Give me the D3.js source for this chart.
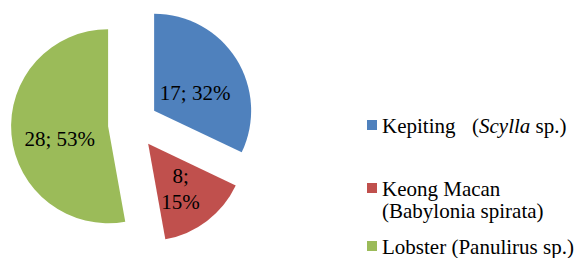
<!DOCTYPE html>
<html>
<head>
<meta charset="utf-8">
<script src="https://cdn.jsdelivr.net/npm/d3@7"></script>
<style>
  body { margin: 0; background: #fff; }
</style>
</head>
<body>
<script>
const categories = ["Kepiting", "Keong Macan", "Lobster"];
const values = [17, 8, 28];
const colors = ["#4f81bd", "#c0504d", "#9bbb59"];
// legend text, one entry per category (extra lines / italic parts)
const legendLines = [
    [[{ t: "Kepiting" }, { t: "(", x: 90 }, { t: "Scylla", i: true }, { t: " sp.)" }]],
    [[{ t: "Keong Macan" }], [{ t: "(Babylonia spirata)" }]],
    [[{ t: "Lobster (Panulirus sp.)" }]]
];

const width = 587;
const height = 258;
const radius = 97;
const explode = 25;
const cx = 133, cy = 124;
const serif = "Liberation Serif";

const svg = d3.select("body")
    .append("svg")
    .attr("width", width)
    .attr("height", height)
    .attr("font-family", serif);

const total = d3.sum(values);
const pct = d3.format(".0%");

const pie = d3.pie().sort(null).value(d => d);
const arc = d3.arc().innerRadius(0).outerRadius(radius);
const arcs = pie(values);

const g = svg.append("g").attr("transform", `translate(${cx},${cy})`);

const slice = g.selectAll("g.slice")
    .data(arcs)
    .enter()
    .append("g")
    .attr("class", "slice")
    .attr("transform", d => {
        const a = (d.startAngle + d.endAngle) / 2;
        return `translate(${Math.sin(a) * explode},${-Math.cos(a) * explode})`;
    });

slice.append("path")
    .attr("d", arc)
    .attr("fill", (d, i) => colors[i]);

// data labels "value; percent"
slice.each(function (d, i) {
    const [x, y] = arc.centroid(d);
    const label = d.value + "; " + pct(d.value / total);
    const t = d3.select(this).append("text")
        .attr("text-anchor", "middle")
        .attr("font-family", serif)
        .attr("font-size", 21)
        .attr("fill", "#000");
    if (i === 1) {
        // narrow slice: label wraps
        t.append("tspan").attr("x", x + 3).attr("y", y + 1).text(d.value + ";");
        t.append("tspan").attr("x", x + 3).attr("y", y + 27).text(pct(d.value / total));
    } else {
        t.attr("x", x).attr("y", y + 15).text(label);
    }
});

// legend
const legendY = [133, 196, 254];
const legend = svg.append("g").attr("transform", "translate(367,0)");

categories.forEach((c, i) => {
    legend.append("rect")
        .attr("x", 0)
        .attr("y", legendY[i] - 13)
        .attr("width", 10)
        .attr("height", 10)
        .attr("fill", colors[i]);
    legendLines[i].forEach((line, j) => {
        const t = legend.append("text")
            .attr("x", 15)
            .attr("y", legendY[i] + j * 22)
            .attr("font-family", serif)
            .attr("font-size", 21)
            .attr("fill", "#000");
        line.forEach(part => {
            const s = t.append("tspan").text(part.t);
            if (part.x) s.attr("x", 15 + part.x);
            if (part.i) s.attr("font-style", "italic");
        });
    });
});
</script>
</body>
</html>
